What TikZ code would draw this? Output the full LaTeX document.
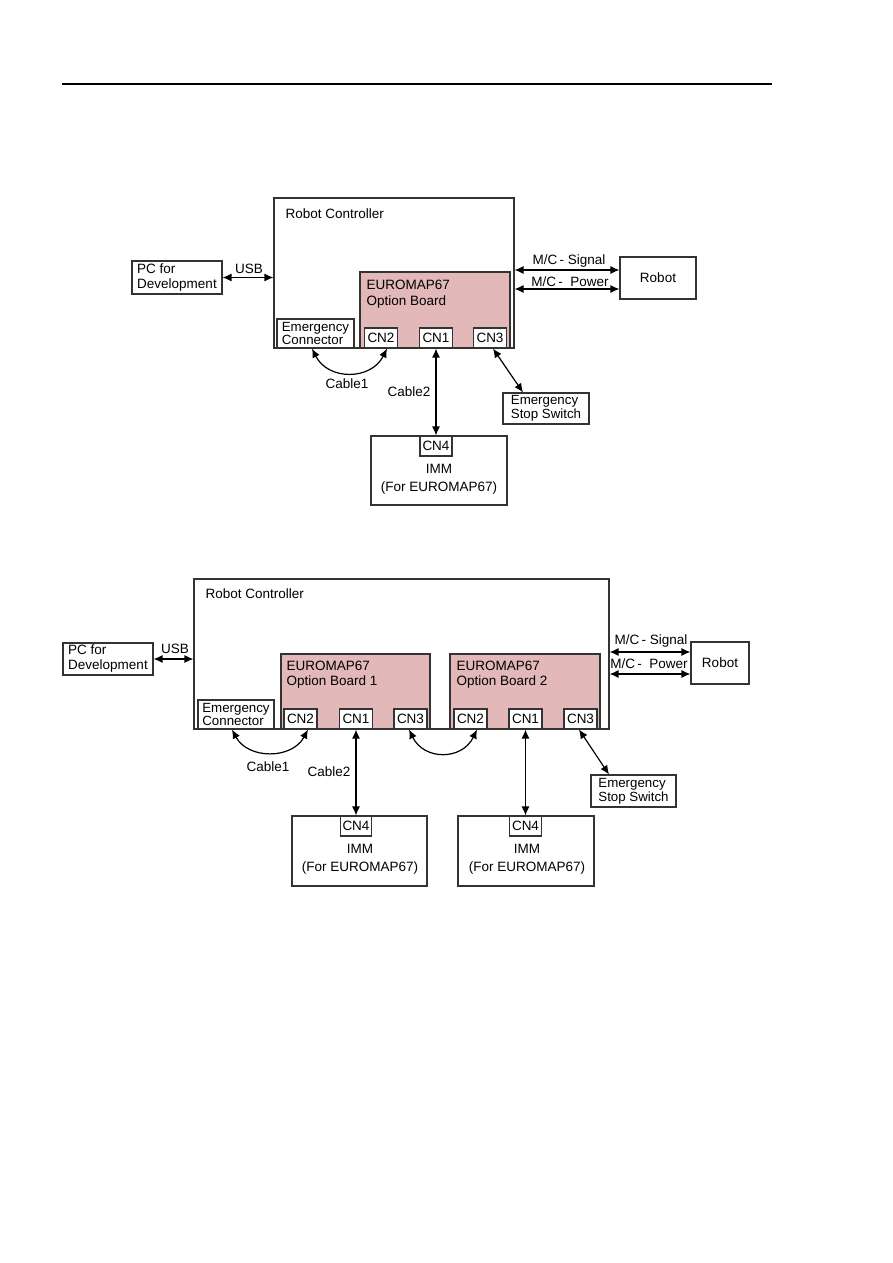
\documentclass[tikz,border=0pt]{standalone}
\usepackage{fontspec}
\setmainfont{Liberation Sans}
\usetikzlibrary{arrows.meta}
\definecolor{boardpink}{RGB}{226,184,184}

\begin{document}
\begin{tikzpicture}[x=1pt, y=-1pt, line width=1.1pt, font=\fontsize{13.5}{15}\selectfont,
  box/.style={draw=black!80, fill=white, inner sep=0pt},
  board/.style={draw=black!80, fill=boardpink, inner sep=0pt},
  port/.style={box, minimum width=33pt, minimum height=20pt},
  lbl/.style={inner sep=0pt, align=left},
  link/.style={{Latex[length=9pt,width=8pt]}-{Latex[length=9pt,width=8pt]}, line width=1.2pt}]
  \useasboundingbox (0,0) rectangle (893,1263);
  \draw[line width=1.3pt] (62,84) -- (772,84);     % page header rule

  % ---- one option board ----
  \node[box, minimum width=240pt, minimum height=150pt] (rc) at (394,273) {};
  \node[lbl, anchor=west] (rctitle) at (285,214) {Robot Controller};
  \node[box, minimum width=90pt, minimum height=33pt, align=left] (pc) at (177,277.5) {PC for\\Development};
  \node[board, minimum width=150pt, minimum height=76pt] (ob) at (435,310) {};
  \node[lbl, anchor=west, font=\fontsize{13.5}{16}\selectfont] (obtitle) at (366,294) {EUROMAP67\\Option Board};
  \node[box, minimum width=77pt, minimum height=29pt, align=left, font=\fontsize{13.3}{13.5}\selectfont] (ec) at (315.5,333.5) {Emergency\\Connector};
  \node[port] (cn2) at (381,338) {CN2};
  \node[port] (cn1) at (436,338) {CN1};
  \node[port] (cn3) at (490,338) {CN3};
  \node[box, minimum width=76pt, minimum height=42pt] (robot) at (658,278) {Robot};
  \node[box, minimum width=86pt, minimum height=31pt, align=left, font=\fontsize{13.3}{14}\selectfont] (ess) at (546,408.5) {Emergency\\Stop Switch};
  \node[box, minimum width=136pt, minimum height=69pt] (imm) at (439,470.5) {};
  \node[port, minimum width=32pt] (cn4) at (436,446) {CN4};
  \node[lbl, align=center, font=\fontsize{13.5}{18}\selectfont] (immtxt) at (439,479) {IMM\\(For EUROMAP67)};
  % cables
  \draw[link] (pc.east) -- (pc.east -| rc.west);
  \node[lbl] (usb) at (249,268.5) {USB};
  \draw[link] (rc.east |- 0,270) -- (robot.west |- 0,270);
  \node[lbl] (sig) at (569,261) {M/C\,-~Signal};
  \draw[link] (rc.east |- 0,289) -- (robot.west |- 0,289);
  \node[lbl] (pow) at (570,282) {M/C\,-~~Power};
  \draw[link] ([xshift=3pt]cn3.south) -- ([xshift=-23pt]ess.north);
  \draw[link] ([xshift=-3.5pt]ec.south) .. controls +(16,32) and +(-16,32) .. ([xshift=6pt]cn2.south);
  \node[lbl] (cable1) at (347,384) {Cable1};
  \draw[link] (cn1.south) -- (cn4.north);
  \node[lbl] (cable2) at (409,392) {Cable2};

  % ---- two option boards ----
  \node[box, minimum width=415pt, minimum height=150pt] (rcb) at (401.5,654) {};
  \node[lbl, anchor=west] (rcbtitle) at (205,594) {Robot Controller};
  \node[box, minimum width=90pt, minimum height=32pt, align=left] (pcb) at (108,659) {PC for\\Development};
  \node[board, minimum width=149pt, minimum height=75pt] (oba) at (355.5,691.5) {};
  \node[lbl, anchor=west, font=\fontsize{13.5}{15}\selectfont] (obatitle) at (286,674.5) {EUROMAP67\\Option Board 1};
  \node[board, minimum width=150pt, minimum height=75pt] (obb) at (525,691.5) {};
  \node[lbl, anchor=west, font=\fontsize{13.5}{15}\selectfont] (obbtitle) at (456,674.5) {EUROMAP67\\Option Board 2};
  \node[box, minimum width=76pt, minimum height=29pt, align=left, font=\fontsize{13.3}{13.5}\selectfont] (ecb) at (236,714.5) {Emergency\\Connector};
  \node[port] (cn2a) at (300.5,719) {CN2};
  \node[port] (cn1a) at (356,719) {CN1};
  \node[port] (cn3a) at (410.5,719) {CN3};
  \node[port] (cn2b) at (470.5,719) {CN2};
  \node[port] (cn1b) at (525.5,719) {CN1};
  \node[port] (cn3b) at (580.5,719) {CN3};
  \node[box, minimum width=58pt, minimum height=42pt] (robotb) at (720,663) {Robot};
  \node[box, minimum width=85pt, minimum height=32pt, align=left, font=\fontsize{13.3}{14}\selectfont] (essb) at (633.5,791) {Emergency\\Stop Switch};
  \node[box, minimum width=135pt, minimum height=70pt] (imma) at (359.5,851) {};
  \node[port, minimum width=31pt] (cn4a) at (356,826) {CN4};
  \node[lbl, align=center, font=\fontsize{13.5}{18}\selectfont] (immatxt) at (360,859) {IMM\\(For EUROMAP67)};
  \node[box, minimum width=136pt, minimum height=70pt] (immb) at (526,851) {};
  \node[port, minimum width=32pt] (cn4b) at (525.5,826) {CN4};
  \node[lbl, align=center, font=\fontsize{13.5}{18}\selectfont] (immbtxt) at (527,859) {IMM\\(For EUROMAP67)};
  % cables
  \draw[link] (pcb.east) -- (pcb.east -| rcb.west);
  \node[lbl] (usbb) at (175,648.5) {USB};
  \draw[link] (rcb.east |- 0,652) -- (robotb.west |- 0,652);
  \node[lbl] (sigb) at (651,641) {M/C\,-~Signal};
  \draw[link] (rcb.east |- 0,674) -- (robotb.west |- 0,674);
  \node[lbl] (powb) at (649,664) {M/C\,-~~Power};
  \draw[link] ([xshift=-4pt]ecb.south) .. controls +(16,30) and +(-16,30) .. ([xshift=7.5pt]cn2a.south);
  \node[lbl] (cable1b) at (268,767) {Cable1};
  \draw[link] ([xshift=-1.5pt]cn3a.south) .. controls +(15,31) and +(-15,31) .. ([xshift=6.5pt]cn2b.south);
  \draw[link] (cn1a.south) -- (cn4a.north);
  \node[lbl] (cable2b) at (329,772) {Cable2};
  \draw[link] (cn1b.south) -- (cn4b.north);
  \draw[link] ([xshift=-1.5pt]cn3b.south) -- ([xshift=-24.5pt]essb.north);
\end{tikzpicture}
\end{document}
